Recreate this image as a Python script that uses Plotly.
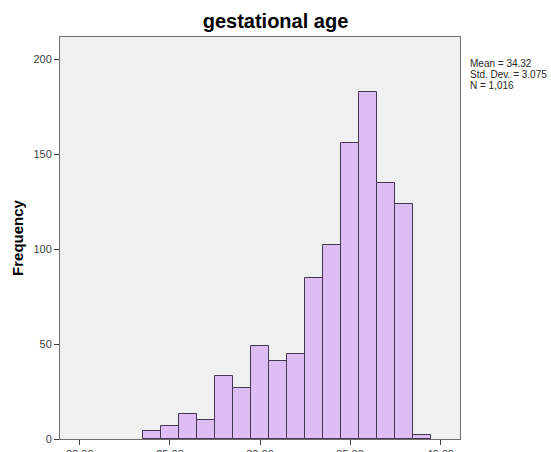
import plotly.graph_objects as go

# Data (bin width 1, centred on integers)
bin_centers = [24, 25, 26, 27, 28, 29, 30, 31, 32, 33, 34, 35, 36, 37, 38, 39]
frequencies = [4, 7, 13, 10, 33, 27, 49, 41, 45, 85, 102, 156, 183, 135, 124, 2]
x_tick_values = [20, 25, 30, 35, 40]
x_tick_labels = ["20.00", "25.00", "30.00", "35.00", "40.00"]
y_tick_values = [0, 50, 100, 150, 200]
stats_lines = ["Mean = 34.32", "Std. Dev. = 3.075", "N = 1,016"]

W, H = 551, 452
L, R, T, B = 60, 91, 37, 13
plot_h = H - T - B

fig = go.Figure()
fig.add_trace(go.Bar(
    x=bin_centers,
    y=frequencies,
    width=1,
    marker=dict(color="rgb(221,189,243)",
                line=dict(color="rgb(70,55,80)", width=1)),
    hoverinfo="x+y",
))

FONT = "Liberation Sans, Arial, sans-serif"
annotations = []
stat_centers_px = [63.5, 74.5, 85.5]
for txt, ypx in zip(stats_lines, stat_centers_px):
    annotations.append(dict(
        text=txt, xref="paper", yref="paper",
        x=(468 - L) / (W - L - R), y=(H - B - ypx) / plot_h,
        xanchor="left", yanchor="middle", showarrow=False,
        font=dict(family=FONT, size=10, color="rgb(40,40,40)"),
    ))

fig.update_layout(
    width=W, height=H,
    margin=dict(l=L, r=R, t=T, b=B, pad=0, autoexpand=False),
    paper_bgcolor="white",
    plot_bgcolor="rgb(240,240,240)",
    showlegend=False,
    bargap=0,
    title=dict(text="<b>gestational age</b>", x=0.5, xanchor="center",
               xref="container", yref="container", y=1 - 21 / H, yanchor="middle",
               automargin=False,
               font=dict(family=FONT, size=20, color="black")),
    annotations=annotations,
    xaxis=dict(
        range=[18.9, 41.1],
        tickvals=x_tick_values, ticktext=x_tick_labels,
        ticks="outside", ticklen=5, tickcolor="rgb(60,60,60)",
        showgrid=False, zeroline=False, automargin=False,
        showline=True, mirror=True, linecolor="rgb(110,110,110)", linewidth=1,
        tickfont=dict(family=FONT, size=11, color="rgb(60,60,60)"),
    ),
    yaxis=dict(
        range=[0, 211.7],
        tickvals=y_tick_values,
        ticks="outside", ticklen=5, tickcolor="rgb(60,60,60)",
        showgrid=False, zeroline=False, automargin=False,
        showline=True, mirror=True, linecolor="rgb(110,110,110)", linewidth=1,
        tickfont=dict(family=FONT, size=11, color="rgb(60,60,60)"),
        title=dict(text="<b>Frequency</b>", standoff=6,
                   font=dict(family=FONT, size=15, color="black")),
    ),
)

fig.write_html(
    "out.html",
    config={"displayModeBar": False},
    post_script="document.body.style.margin='0';document.body.style.padding='0';",
)
